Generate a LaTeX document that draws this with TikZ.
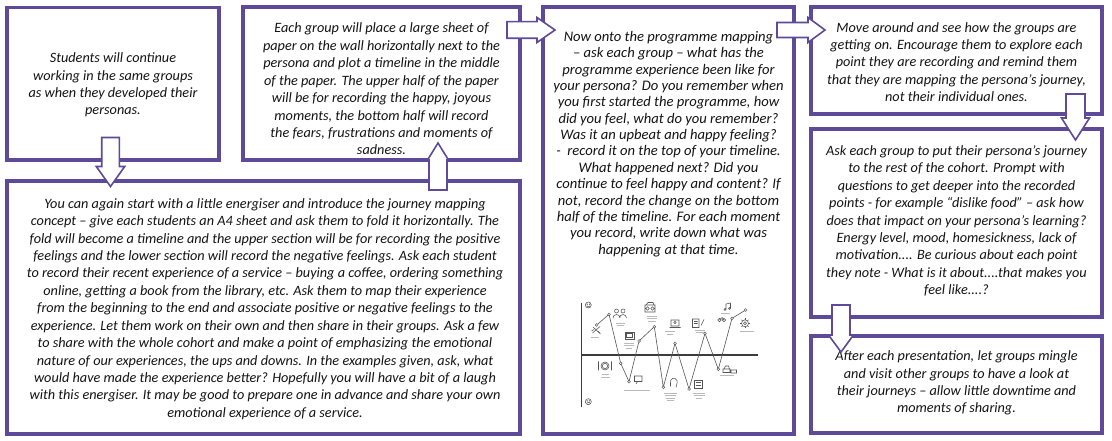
\documentclass[tikz,border=0pt]{standalone}
\usepackage{fontspec}
\setmainfont{Carlito}
\usetikzlibrary{calc}
\definecolor{framec}{RGB}{94,74,153}
\definecolor{mapgray}{RGB}{85,85,85}
\tikzset{
  box/.style={draw=framec, line width=3.6bp, fill=white, inner sep=0pt},
  txt/.style={align=center, font=\fontsize{14.3}{17.5}\selectfont\itshape, inner sep=0pt, text=black!92},
  txtD/.style={txt, font=\fontsize{14.65}{16.4}\selectfont\itshape},
  barrow/.style={draw=framec, line width=1.6bp, fill=white, line join=miter},
  icon/.style={draw=mapgray, line width=0.55bp},
  lbl/.style={draw=gray!55, line width=0.9bp},
  zig/.style={draw=mapgray, line width=0.6bp},
  dot/.style={draw=mapgray, fill=white, line width=0.5bp},
}
\newcommand\VBlock[6]{\draw[barrow] ({#1-#5},#2) -- ({#1+#5},#2) -- ({#1+#5},#3) -- ({#1+#6},#3) -- (#1,#4) -- ({#1-#6},#3) -- ({#1-#5},#3) -- cycle;}
\newcommand\HBlock[6]{\draw[barrow] (#2,{#1-#5}) -- (#2,{#1+#5}) -- (#3,{#1+#5}) -- (#3,{#1+#6}) -- (#4,#1) -- (#3,{#1-#6}) -- (#3,{#1-#5}) -- cycle;}
\newcommand\Lbl[3]{\draw[lbl] ({#1-#3/2},#2) -- ({#1+#3/2},#2);}
\begin{document}
\begin{tikzpicture}[x=1bp,y=-1bp]
\fill[white] (0,0) rectangle (1112,441);
\useasboundingbox (0,0) rectangle (1112,441);
% boxes
\node[box, minimum width=212bp, minimum height=152.5bp] (A) at (113,83.75) {};
\node[box, minimum width=277bp, minimum height=153bp] (B) at (381.5,83.5) {};
\node[box, minimum width=513bp, minimum height=253bp] (C) at (263.5,307.5) {};
\node[box, minimum width=251bp, minimum height=427bp] (D) at (668.5,220.5) {};
\node[box, minimum width=291bp, minimum height=107bp] (E) at (956.5,60.5) {};
\node[box, minimum width=291bp, minimum height=188bp] (F) at (956.5,223) {};
\node[box, minimum width=291bp, minimum height=97bp] (G) at (956.5,384.5) {};
% texts
\node[txt] (At) at (113,85) {Students will continue\\working in the same groups\\as when they developed their\\personas.};
\node[txt] (Bt) at (381.5,89) {Each group will place a large sheet of\\paper on the wall horizontally next to the\\persona and plot a timeline in the middle\\of the paper. The upper half of the paper\\will be for recording the happy, joyous\\moments, the bottom half will record\\the fears, frustrations and moments of\\sadness.};
\node[txt] (Ct) at (265,309) {You can again start with a little energiser and introduce the journey mapping\\concept -- give each students an A4 sheet and ask them to fold it horizontally. The\\fold will become a timeline and the upper section will be for recording the positive\\feelings and the lower section will record the negative feelings. Ask each student\\to record their recent experience of a service -- buying a coffee, ordering something\\online, getting a book from the library, etc. Ask them to map their experience\\from the beginning to the end and associate positive or negative feelings to the\\experience. Let them work on their own and then share in their groups. Ask a few\\to share with the whole cohort and make a point of emphasizing the emotional\\nature of our experiences, the ups and downs. In the examples given, ask, what\\would have made the experience better? Hopefully you will have a bit of a laugh\\with this energiser. It may be good to prepare one in advance and share your own\\emotional experience of a service.};
\node[txtD] (Dt) at (668.5,144) {Now onto the programme mapping\\-- ask each group -- what has the\\programme experience been like for\\your persona? Do you remember when\\you first started the programme, how\\did you feel, what do you remember?\\Was it an upbeat and happy feeling?\\-\ \ record it on the top of your timeline.\\What happened next? Did you\\continue to feel happy and content? If\\not, record the change on the bottom\\half of the timeline. For each moment\\you record, write down what was\\happening at that time.};
\node[txt] (Et) at (956.5,62) {Move around and see how the groups are\\getting on. Encourage them to explore each\\point they are recording and remind them\\that they are mapping the persona’s journey,\\not their individual ones.};
\node[txt] (Ft) at (956.5,221) {Ask each group to put their persona’s journey\\to the rest of the cohort. Prompt with\\questions to get deeper into the recorded\\points - for example “dislike food” -- ask how\\does that impact on your persona’s learning?\\Energy level, mood, homesickness, lack of\\motivation.... Be curious about each point\\they note - What is it about....that makes you\\feel like....?};
\node[txt] (Gt) at (956.5,383) {After each presentation, let groups mingle\\and visit other groups to have a look at\\their journeys -- allow little downtime and\\moments of sharing.};
% block arrows
\VBlock{110.5}{137.5}{166.5}{186.5}{8.8}{14.2}
\VBlock{438}{190}{160}{143}{9}{10.5}
\HBlock{30}{507}{537}{555}{8.3}{12.5}
\HBlock{30}{777}{808}{825}{7.5}{12.5}
\VBlock{1075.5}{94}{118}{140}{9.5}{14}
\VBlock{841}{305}{335}{352}{9}{12.5}
% journey map graphic
\draw[draw=mapgray!70!black, line width=1.1bp] (581.7,302.7) -- (581.7,406.7);
\draw[draw=mapgray!70!black, line width=1.1bp] (581.7,355) -- (758.3,355);
\draw[icon] (588.3,305) circle (3bp) (587.2,304.2) circle (0.3bp) (589.4,304.2) circle (0.3bp);
\draw[icon] (586.6,305.8) arc (200:340:1.8bp);
\draw[icon] (588.3,401.7) circle (3bp) (587.2,400.9) circle (0.3bp) (589.4,400.9) circle (0.3bp);
\draw[icon] (586.6,403.3) arc (160:20:1.8bp);
\draw[zig] plot coordinates {(596.7,325) (609,314.3) (620.7,363.3) (629,381.7) (639,341) (654.3,326.7) (663.3,387.3) (675,343.3) (689,389) (705,333.3) (718.3,369.3) (732,318.3) (745.7,310)};
\foreach \p in {(596.7,325),(609,314.3),(620.7,363.3),(629,381.7),(639,341),(654.3,326.7),(663.3,387.3),(675,343.3),(689,389),(705,333.3),(718.3,369.3),(732,318.3),(745.7,310)}
  \draw[dot] \p circle (1.4bp);
% icons
\draw[icon] (593,327) -- (600.5,334) (592.5,333) -- (600,326.5) (594,329.5) -- (591.5,331) (598,331) -- (600,333);
\draw[icon] (616.5,311) circle (2bp) (623,311) circle (2bp) (613,318) arc (180:0:3.5bp) (619.5,318) arc (180:0:3.5bp);
\draw[icon] (625,332) rectangle (634,339) (626.5,333.5) rectangle (632.5,337.5);
\draw[icon] (645,305) rectangle (655,312) (647.5,308.5) circle (1.8bp) (652.5,308.5) circle (1.8bp) (646,305) -- (648,302.5) -- (653,302.5) -- (654,305);
\draw[icon] (605,366) circle (4bp) (605,366) circle (2.6bp) (598.5,361.5) -- (598.5,370.5) (611.5,361.5) -- (611.5,370.5);
\draw[icon] (634.5,376) rectangle (642,381.5) (636,384) -- (637.5,381.5);
\draw[icon] (671,320) rectangle (679,326) (669.5,327.5) -- (680.5,327.5) (675,322.5) circle (1.2bp);
\draw[icon] (670.5,386.5) -- (670.5,383) arc (200:-20:3.5bp) -- (676,387.5);
\draw[icon] (692.5,319) rectangle (699,327.5) (694,321.5) -- (697.5,321.5) (694,323.5) -- (697.5,323.5) (701,325.5) -- (704,319.5);
\draw[icon] (694,380) rectangle (702,388.5) (695.5,382.5) -- (700.5,382.5) (695.5,385) -- (700.5,385);
\draw[icon] (726,304) -- (726,309.5) (730.5,303) -- (730.5,308.5) (726,304) -- (730.5,303) (725,309.5) circle (1bp) (729.5,308.5) circle (1bp);
\draw[icon] (719.5,320) circle (1.8bp) (724,320) circle (1.8bp) (719.5,320) -- (722,317.5) -- (724,320);
\draw[icon] (745,323.3) circle (3.5bp) (745,323.3) circle (1.5bp);
\foreach \a in {0,45,...,315} \draw[icon] ($(745,323.3)+(\a:3.5bp)$) -- ($(745,323.3)+(\a:5bp)$);
\draw[icon] (723,369) rectangle (730,372.5) (724,369) -- (725.5,366) -- (728.5,366) -- (729.5,369) (731,370) rectangle (736.5,373);
% label placeholders
\Lbl{595}{337.5}{8}
\Lbl{620}{323}{9} \Lbl{620}{325.5}{7}
\Lbl{629.3}{343}{10} \Lbl{629.3}{345.5}{10} \Lbl{629.3}{348}{6}
\Lbl{651.7}{316}{10} \Lbl{651.7}{318.5}{10} \Lbl{651.7}{321}{8}
\Lbl{605.7}{374.5}{7} \Lbl{605.7}{377}{9}
\Lbl{636.7}{390}{26}
\Lbl{670}{331.5}{10} \Lbl{670}{334}{6}
\Lbl{670}{393}{13} \Lbl{670}{395.5}{11} \Lbl{670}{398}{9} \Lbl{670}{400.5}{7}
\Lbl{700}{330}{10} \Lbl{700}{332.5}{8}
\Lbl{699.3}{393}{12} \Lbl{699.3}{395.5}{11} \Lbl{699.3}{398}{6}
\Lbl{725}{313.3}{9}
\Lbl{746.7}{331}{14}
\Lbl{726.7}{375}{14}
\end{tikzpicture}
\end{document}
